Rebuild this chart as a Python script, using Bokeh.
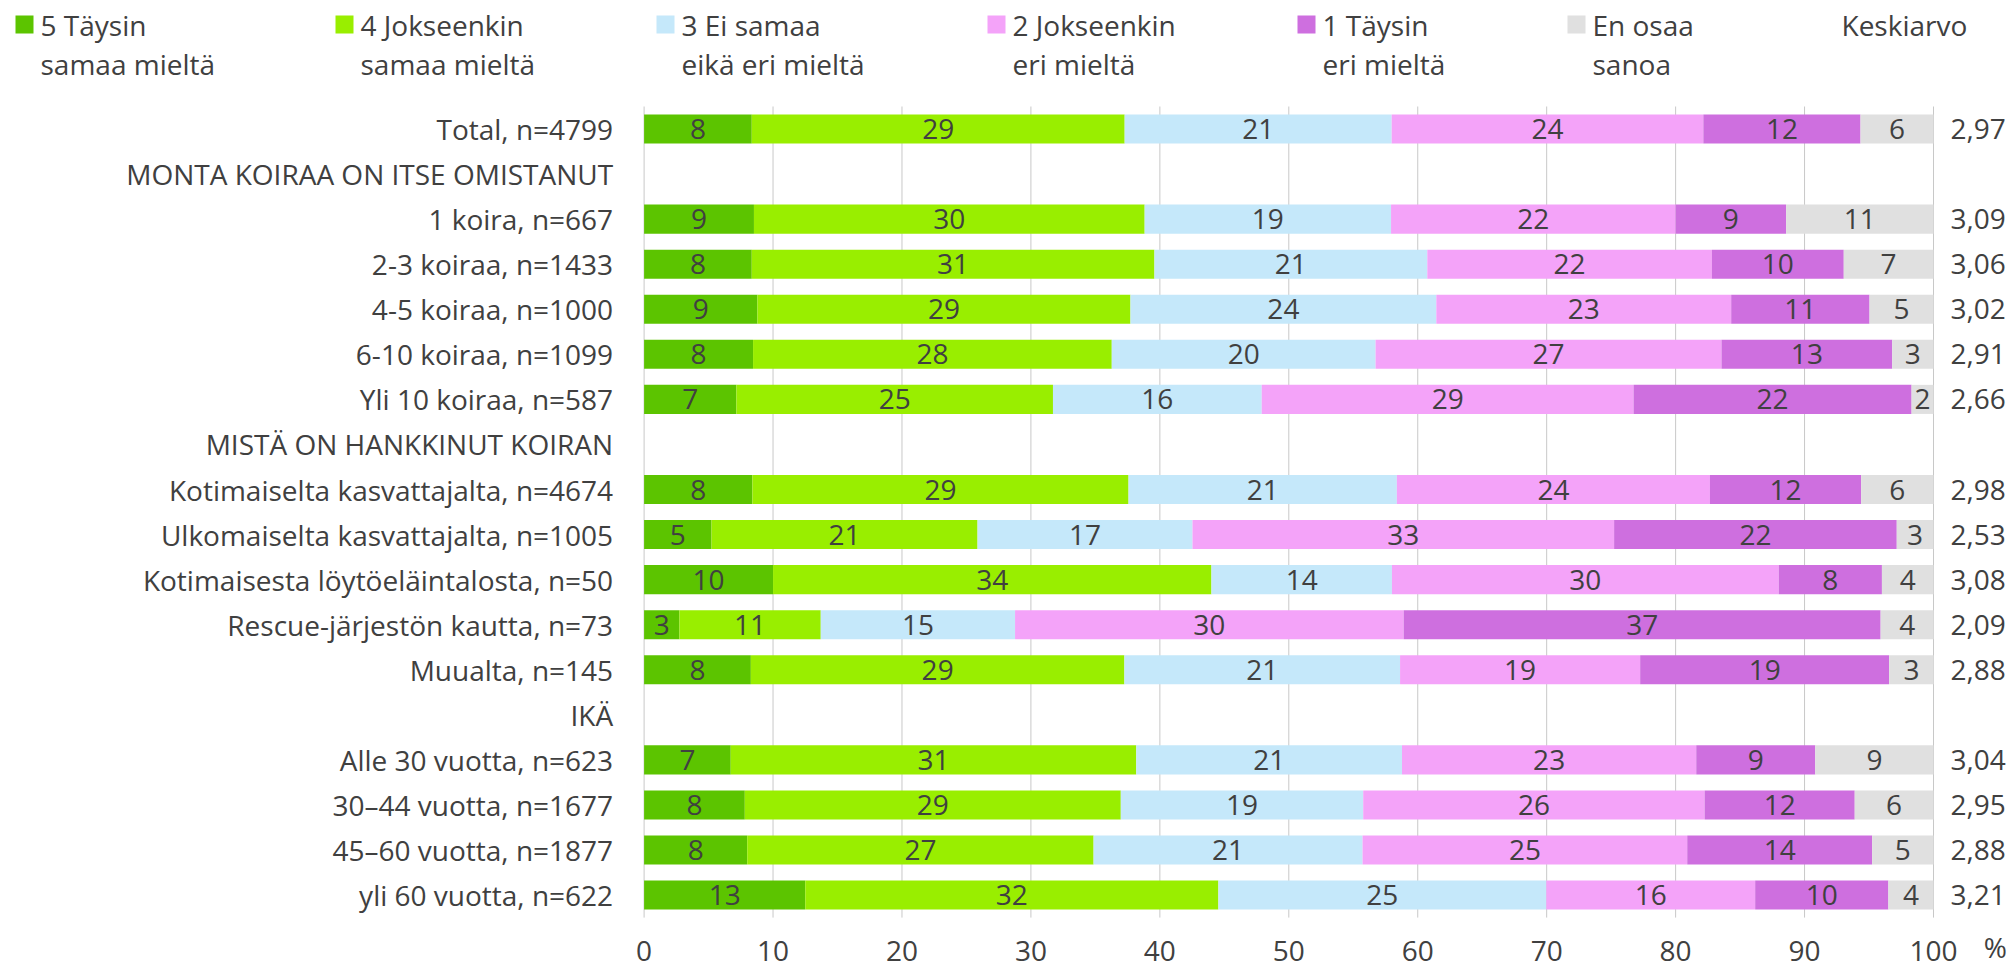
from bokeh.plotting import figure
from bokeh.models import ColumnDataSource, Range1d
from bokeh.core.properties import value
from bokeh.embed import file_html
from bokeh.resources import INLINE

# ---------------- data ----------------
categories = [
    "Total, n=4799",
    "MONTA KOIRAA ON ITSE OMISTANUT",
    "1 koira, n=667",
    "2-3 koiraa, n=1433",
    "4-5 koiraa, n=1000",
    "6-10 koiraa, n=1099",
    "Yli 10 koiraa, n=587",
    "MISTÄ ON HANKKINUT KOIRAN",
    "Kotimaiselta kasvattajalta, n=4674",
    "Ulkomaiselta kasvattajalta, n=1005",
    "Kotimaisesta löytöeläintalosta, n=50",
    "Rescue-järjestön kautta, n=73",
    "Muualta, n=145",
    "IKÄ",
    "Alle 30 vuotta, n=623",
    "30–44 vuotta, n=1677",
    "45–60 vuotta, n=1877",
    "yli 60 vuotta, n=622",
]
headers = ["MONTA KOIRAA ON ITSE OMISTANUT", "MISTÄ ON HANKKINUT KOIRAN", "IKÄ"]
data_rows = [c for c in categories if c not in headers]

legend_lines = [("5 Täysin", "samaa mieltä"), ("4 Jokseenkin", "samaa mieltä"),
                ("3 Ei samaa", "eikä eri mieltä"), ("2 Jokseenkin", "eri mieltä"),
                ("1 Täysin", "eri mieltä"), ("En osaa", "sanoa")]
avg_header = "Keskiarvo"
unit_label = "%"

s5 = [8.35, 8.52, 8.35, 8.79, 8.45, 7.16, 8.40, 5.23, 10, 2.74, 8.28, 6.72, 7.81, 8.00, 12.50]
s4 = [28.92, 30.30, 31.23, 28.93, 27.82, 24.55, 29.17, 20.63, 34, 10.96, 28.97, 31.45, 29.16, 26.86, 32.04]
s3 = [20.71, 19.11, 21.16, 23.72, 20.46, 16.19, 20.81, 16.67, 14, 15.07, 21.38, 20.61, 18.80, 20.86, 25.43]
s2 = [24.17, 22.07, 22.07, 22.87, 26.83, 28.84, 24.28, 32.70, 30, 30.14, 18.62, 22.82, 26.48, 25.18, 16.20]
s1 = [12.19, 8.57, 10.23, 10.73, 13.24, 21.56, 11.73, 21.92, 8, 36.99, 19.31, 9.23, 11.64, 14.34, 10.33]
s0 = [5.66, 11.43, 6.96, 4.96, 3.20, 1.70, 5.61, 2.85, 4, 4.11, 3.45, 9.17, 6.11, 4.76, 3.50]
keskiarvo = [2.97, 3.09, 3.06, 3.02, 2.91, 2.66, 2.98, 2.53, 3.08, 2.09, 2.88, 3.04, 2.95, 2.88, 3.21]

x_ticks = [0, 10, 20, 30, 40, 50, 60, 70, 80, 90, 100]

colors = ["#5CC400", "#99EE00", "#C5E8FA", "#F4A3F9", "#CE6FDF", "#E0E0E0"]
TEXT = "#404040"
GRID = "#C8C8C8"
FONT = value("Open Sans")
FS = "28px"

# ---------------- layout (canvas pixels) ----------------
W, H = 2012, 971
PLOT_LEFT = 643.6      # canvas x of value 0
PX_PER_UNIT = 12.894   # canvas px per percent
PLOT_TOP = 106.0       # canvas y of top of plotting band
ROW_PX = 45.06         # row pitch
n_rows = len(categories)

x_start = -PLOT_LEFT / PX_PER_UNIT
x_end = (W - PLOT_LEFT) / PX_PER_UNIT
y_top = -0.5 - PLOT_TOP / ROW_PX
y_bottom = -0.5 + (H - PLOT_TOP) / ROW_PX


def dx(cx):
    return (cx - PLOT_LEFT) / PX_PER_UNIT


def dy(cy):
    return -0.5 + (cy - PLOT_TOP) / ROW_PX


p = figure(width=W, height=H, x_range=Range1d(x_start, x_end), y_range=Range1d(y_bottom, y_top),
           x_axis_type=None, y_axis_type=None, output_backend="svg", toolbar_location=None,
           min_border=0, outline_line_color=None)

row_index = {c: i for i, c in enumerate(categories)}
ys = [row_index[c] for c in data_rows]

# vertical gridlines
p.segment(x0=x_ticks, x1=x_ticks, y0=[-0.5] * len(x_ticks), y1=[n_rows - 0.5] * len(x_ticks),
          line_color=GRID, line_width=1)

# stacked bars
src = ColumnDataSource(dict(y=ys, s5=s5, s4=s4, s3=s3, s2=s2, s1=s1, s0=s0))
p.hbar_stack(["s5", "s4", "s3", "s2", "s1", "s0"], y="y", height=0.645, source=src,
             fill_color=colors, line_color=None)

# segment value labels
lx, ly, lt = [], [], []
for i, yy in enumerate(ys):
    start = 0.0
    for ser in (s5, s4, s3, s2, s1, s0):
        v = ser[i]
        lx.append(start + v / 2)
        ly.append(yy)
        lt.append(str(int(v + 0.5)))
        start += v
p.text(x=lx, y=ly, text=lt, text_align="center", text_baseline="middle",
       text_font=FONT, text_font_size=FS, text_color=TEXT)

# averages column
p.text(x=[100] * len(ys), y=ys, text=[f"{a:.2f}".replace(".", ",") for a in keskiarvo],
       x_offset=17, text_align="left", text_baseline="middle",
       text_font=FONT, text_font_size=FS, text_color=TEXT)

# category labels (left)
p.text(x=[0] * n_rows, y=list(range(n_rows)), text=categories, x_offset=-31,
       text_align="right", text_baseline="middle",
       text_font=FONT, text_font_size=FS, text_color=TEXT)

# x tick labels
p.text(x=x_ticks, y=[n_rows - 0.5] * len(x_ticks), text=[str(t) for t in x_ticks], y_offset=33,
       text_align="center", text_baseline="middle",
       text_font=FONT, text_font_size=FS, text_color=TEXT)
p.text(x=[104.8], y=[n_rows - 0.5], text=[unit_label], y_offset=29,
       text_align="center", text_baseline="middle",
       text_font=FONT, text_font_size=FS, text_color=TEXT)

# legend strip
leg_left = [15, 335, 656, 987, 1297, 1567]
p.rect(x=[dx(l + 9) for l in leg_left], y=[dy(24)] * len(leg_left), width=18, height=18,
       width_units="screen", height_units="screen", fill_color=colors, line_color=None)
p.text(x=[dx(l + 25) for l in leg_left], y=[dy(24)] * len(leg_left), text=[a for a, b in legend_lines],
       text_align="left", text_baseline="middle",
       text_font=FONT, text_font_size=FS, text_color=TEXT)
p.text(x=[dx(l + 25) for l in leg_left], y=[dy(63)] * len(leg_left), text=[b for a, b in legend_lines],
       text_align="left", text_baseline="middle",
       text_font=FONT, text_font_size=FS, text_color=TEXT)
p.text(x=[dx(1841)], y=[dy(24)], text=[avg_header], text_align="left", text_baseline="middle",
       text_font=FONT, text_font_size=FS, text_color=TEXT)

open("out.html", "w").write(file_html(p, INLINE))
